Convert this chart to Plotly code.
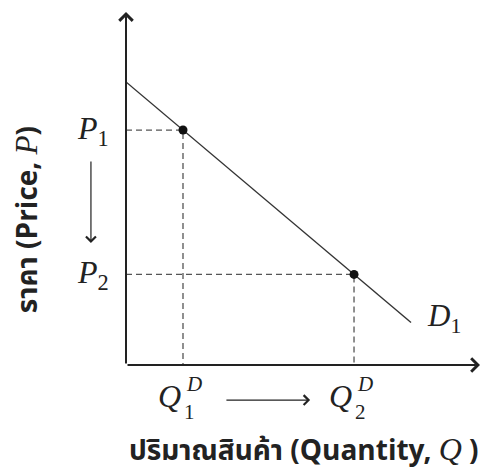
import plotly.graph_objects as go

# ---- data (economic units) ----
demand_q = [0, 10]
demand_p = [10, 1.5]
point_q = [2, 8]
point_p = [8.3, 3.2]
x_max = 12.42
y_max = 12.47

INK = "#222222"
SERIF = "Liberation Serif, DejaVu Serif, serif"
THAI = "Noto Sans Thai, Loma, Garuda, Tlwg Typo, Noto Sans, DejaVu Sans, sans-serif"

PX_X = 354 / x_max   # pixels per x unit
PX_Y = 353 / y_max   # pixels per y unit


def px(xv):
    return xv / x_max


def py(yv):
    return yv / y_max


fig = go.Figure()

# dashed guides
for q, p in zip(point_q, point_p):
    fig.add_trace(go.Scatter(x=[0, q, q], y=[p, p, 0], mode="lines",
                             line=dict(color="#555555", width=1.3, dash="6px,4px"),
                             hoverinfo="skip", showlegend=False))

# demand curve
fig.add_trace(go.Scatter(x=demand_q, y=demand_p, mode="lines",
                         line=dict(color="#333333", width=1.4),
                         hoverinfo="skip", showlegend=False))

# points
fig.add_trace(go.Scatter(x=point_q, y=point_p, mode="markers",
                         marker=dict(color="#111111", size=9),
                         hoverinfo="skip", showlegend=False))

ann = []
# axes with arrows
ann.append(dict(x=px(x_max), y=py(0), ax=-x_max * PX_X, ay=0, xref="paper", yref="paper",
                axref="pixel", ayref="pixel",
                showarrow=True, arrowhead=4, arrowsize=1.3, arrowwidth=2, arrowcolor=INK, text=""))
ann.append(dict(x=px(0), y=py(y_max), ax=0, ay=y_max * PX_Y, xref="paper", yref="paper",
                axref="pixel", ayref="pixel",
                showarrow=True, arrowhead=4, arrowsize=1.3, arrowwidth=2, arrowcolor=INK, text=""))

# movement arrows (price falls, quantity rises)
arr_x = -1.23
arr_y = -1.24
ann.append(dict(x=px(arr_x), y=py(4.31), ax=0, ay=-(7.24 - 4.31) * PX_Y, xref="paper", yref="paper",
                axref="pixel", ayref="pixel",
                showarrow=True, arrowhead=4, arrowsize=1.6, arrowwidth=1.2, arrowcolor=INK, text=""))
ann.append(dict(x=px(6.46), y=py(arr_y), ax=-(6.46 - 3.47) * PX_X, ay=0, xref="paper", yref="paper",
                axref="pixel", ayref="pixel",
                showarrow=True, arrowhead=4, arrowsize=1.6, arrowwidth=1.2, arrowcolor=INK, text=""))

# price labels
for i, p in enumerate(point_p):
    ann.append(dict(x=px(0), y=py(p), xref="paper", yref="paper", xanchor="right", yanchor="middle",
                    xshift=-15, showarrow=False,
                    text=f"<i>P</i><sub>{i+1}</sub>",
                    font=dict(family=SERIF, size=32, color=INK)))

# quantity labels Q^D_i
for i, q in enumerate(point_q):
    ann.append(dict(x=px(q), y=py(-1.1), xref="paper", yref="paper", xanchor="right", yanchor="middle",
                    xshift=0, showarrow=False, text="<i>Q</i>",
                    font=dict(family=SERIF, size=32, color=INK)))
    ann.append(dict(x=px(q), y=py(-1.1), xref="paper", yref="paper", xanchor="left", yanchor="bottom",
                    xshift=1, yshift=-2, showarrow=False, text="<i>D</i>",
                    font=dict(family=SERIF, size=21, color=INK)))
    ann.append(dict(x=px(q), y=py(-1.1), xref="paper", yref="paper", xanchor="left", yanchor="top",
                    xshift=-1, yshift=-2, showarrow=False, text=f"{i+1}",
                    font=dict(family=SERIF, size=21, color=INK)))

# D1 label
ann.append(dict(x=px(demand_q[1]), y=py(demand_p[1]), xref="paper", yref="paper",
                xanchor="left", yanchor="middle",
                xshift=14, yshift=5, showarrow=False, text="<i>D</i><sub>1</sub>",
                font=dict(family=SERIF, size=31, color=INK)))

# axis titles
ann.append(dict(x=px(-3.44), y=py(5.15), xref="paper", yref="paper", textangle=-90, showarrow=False,
                xanchor="center", yanchor="middle",
                text=("<b>ราคา (Price, </b><span style=\"font-family:Liberation Serif; font-size:31px\"><i>P</i></span><b>)</b>"),
                font=dict(family=THAI, size=28, color=INK)))
ann.append(dict(x=px(6.25), y=py(-3.04), xref="paper", yref="paper", showarrow=False,
                xanchor="center", yanchor="middle",
                text=("<b>ปริมาณสินค้า (Quantity, </b><span style=\"font-family:Liberation Serif; font-size:32px\"><i>Q</i></span><b> )</b>"),
                font=dict(family=THAI, size=28, color=INK)))

fig.update_layout(
    width=483, height=467, autosize=False,
    margin=dict(l=118, r=11, t=4, b=110),
    paper_bgcolor="white", plot_bgcolor="white",
    xaxis=dict(range=[0, x_max], visible=False, fixedrange=True),
    yaxis=dict(range=[0, y_max], visible=False, fixedrange=True),
    annotations=ann,
    showlegend=False,
)

fig.write_html("out.html", config={"displayModeBar": False})
